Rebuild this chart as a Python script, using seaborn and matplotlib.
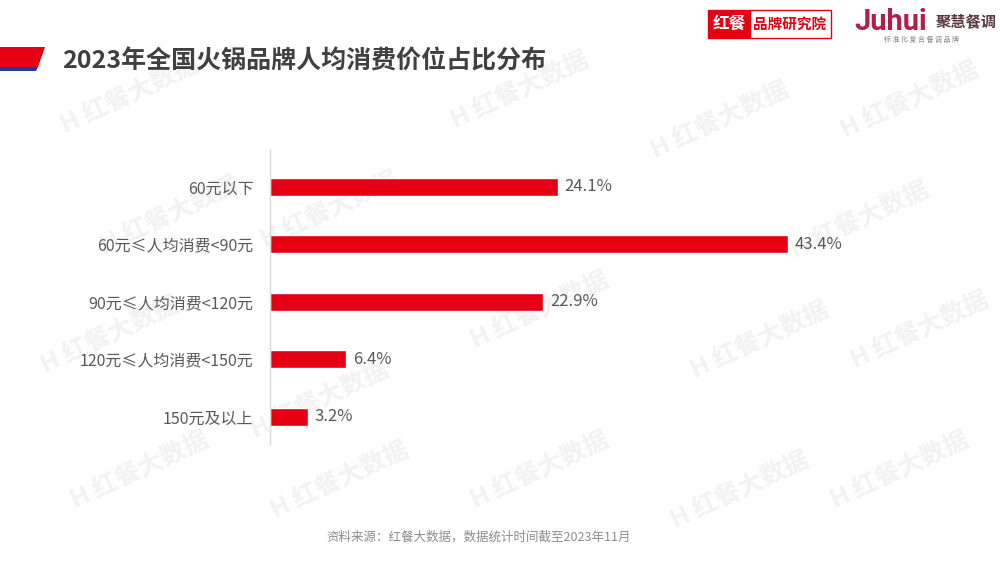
import matplotlib
matplotlib.use("Agg")
import matplotlib.pyplot as plt
from matplotlib.patches import Polygon, Rectangle
import seaborn as sns
import pandas as pd

# data
categories = ["60元以下", "60元≤人均消费<90元", "90元≤人均消费<120元",
              "120元≤人均消费<150元", "150元及以上"]
shares = [24.1, 43.4, 22.9, 6.4, 3.2]

TITLE = "2023年全国火锅品牌人均消费价位占比分布"
SOURCE = "资料来源：红餐大数据，数据统计时间截至2023年11月"

RED = "#e50014"
sns.set_theme(style="white")
plt.rcParams["font.family"] = ["Noto Sans CJK SC", "DejaVu Sans"]

df = pd.DataFrame({"category": categories, "share": shares})

fig = plt.figure(figsize=(10, 5.63), dpi=100)
fig.patch.set_facecolor("white")

# faint watermarks in the background
bg = fig.add_axes([0, 0, 1, 1], zorder=0)
bg.set_xlim(0, 1000)
bg.set_ylim(563, 0)
bg.axis("off")
marks = [(130, 95), (520, 90), (910, 100), (170, 215), (720, 120),
         (330, 210), (860, 220), (110, 335), (540, 310), (760, 340),
         (320, 400), (140, 470), (340, 480), (540, 470), (740, 490),
         (900, 470), (920, 330)]
for wx, wy in marks:
    bg.text(wx, wy, "H 红餐大数据", fontsize=18, color="#f2f2f2",
            rotation=25, ha="center", va="center", fontweight="bold")

# header stripe
bg.add_patch(Polygon([[0, 47], [45, 47], [38, 67], [0, 67]], closed=True,
                     facecolor=RED, edgecolor="none"))
bg.add_patch(Polygon([[0, 67], [38, 67], [36, 71], [0, 71]], closed=True,
                     facecolor="#1f3a93", edgecolor="none"))
bg.text(62, 61, TITLE, fontsize=18, color="#404040", fontweight="bold",
        ha="left", va="center")

# logos top right
bg.add_patch(Rectangle((708, 10), 42, 28, facecolor=RED, edgecolor=RED, lw=1))
bg.add_patch(Rectangle((750, 10), 81, 28, facecolor="white", edgecolor=RED, lw=1))
bg.text(729, 24, "红餐", fontsize=12, color="white", fontweight="bold",
        ha="center", va="center")
bg.text(790, 24, "品牌研究院", fontsize=10.5, color=RED, fontweight="bold",
        ha="center", va="center")
bg.text(854, 22, "Juhui", fontsize=21, color="#b01f45", fontweight="bold",
        ha="left", va="center", family=["Roboto", "DejaVu Sans"])
bg.text(936, 21, "聚慧餐调", fontsize=11, color="#5a3a40", fontweight="bold",
        ha="left", va="center")
bg.text(922, 40, "标 准 化 复 合 餐 调 品 牌", fontsize=5, color="#888888",
        ha="center", va="center")

# source note
bg.text(479, 537, SOURCE, fontsize=9, color="#8c8c8c", ha="center", va="center")

# main bar chart
ax = fig.add_axes([0.27, 1 - 445 / 563, 0.6, 295 / 563], zorder=1)
ax.patch.set_alpha(0)
sns.barplot(data=df, x="share", y="category", orient="h", color=RED,
            width=0.31, saturation=1, ax=ax)
ax.set_xlim(0, 50.25)
ax.set_ylim(4.49, -0.64)
for i, v in enumerate(shares):
    ax.text(v + 0.55, i, f"{v}%", va="center", ha="left",
            fontsize=12, color="#595959")

for s in ["top", "right", "bottom"]:
    ax.spines[s].set_visible(False)
ax.spines["left"].set_color("#d9d9d9")
ax.spines["left"].set_linewidth(1)
ax.set_xticks([])
ax.set_xlabel("")
ax.set_ylabel("")
ax.tick_params(axis="y", length=0, pad=12, labelsize=11.5, labelcolor="#595959")

fig.savefig("out.png", dpi=100)
